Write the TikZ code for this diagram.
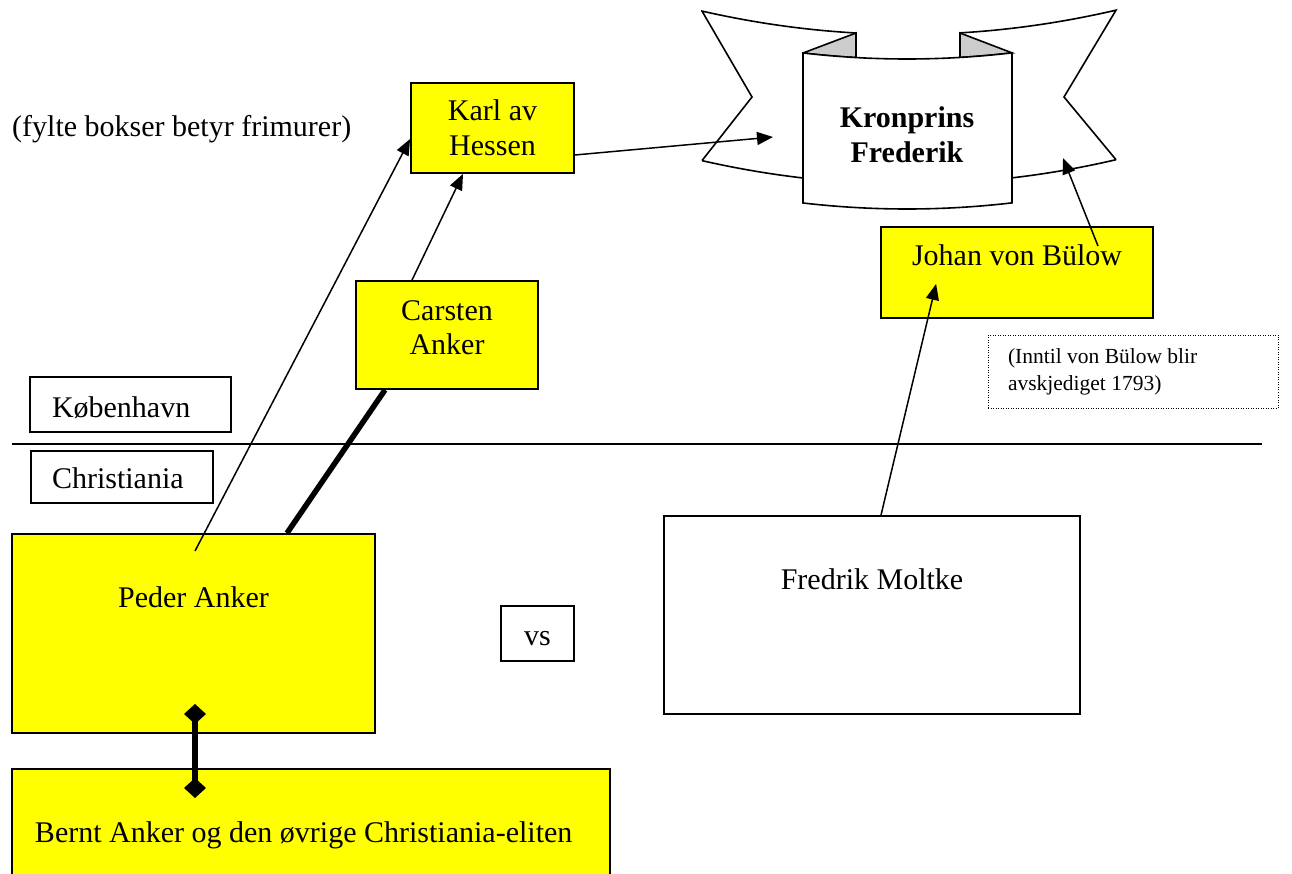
\documentclass[tikz,border=0pt]{standalone}
\usepackage{fontspec}
\setmainfont{Liberation Serif}
\usetikzlibrary{arrows.meta,calc}
\definecolor{yel}{RGB}{255,255,0}
\definecolor{foldgray}{RGB}{204,204,204}
\newcommand\fsmain{\fontsize{30}{34.5}\selectfont}
\newcommand\fssmall{\fontsize{21.5}{27}\selectfont}
\begin{document}
\begin{tikzpicture}[x=1pt,y=-1pt,
  ybox/.style={draw=black, line width=1.8pt, fill=yel, inner sep=0pt, anchor=base, font=\fsmain},
  wbox/.style={ybox, fill=white},
  dotbox/.style={draw=black, line width=1pt, dash pattern=on 1pt off 1.5pt, fill=white, inner sep=0pt, anchor=base, font=\fssmall},
  conn/.style={line width=1.5pt, -{Triangle[length=16pt,width=13pt]}},
  heavylink/.style={line width=5.5pt, line cap=butt},
  bline/.style={line width=1.6pt, line join=miter},
  plain/.style={inner sep=0pt, font=\fsmain}
]
\useasboundingbox (0,0) rectangle (1292,874);
\clip (0,0) rectangle (1292,874);

% ---------- banner ----------
\draw[bline] (702,160.6) -- (752,97) -- (702,11.1)
  -- plot[domain=702:856,samples=30] (\x,{34.45-5.56*((\x-907)/100)^2});
\draw[bline] plot[domain=702:803,samples=30] (\x,{184-5.56*((\x-907)/100)^2});
\draw[bline] plot[domain=960:1116,samples=30] (\x,{34.45-5.56*((\x-907)/100)^2})
  -- (1064,97) -- (1116,159.7);
\draw[bline] plot[domain=1012:1116,samples=30] (\x,{184-5.56*((\x-907)/100)^2});
\filldraw[bline, fill=foldgray] (856,33) -- (803,53)
  -- plot[domain=803:856,samples=20] (\x,{59-5.56*((\x-907)/100)^2}) -- cycle;
\filldraw[bline, fill=foldgray] (960,33) -- (960,57.4)
  -- plot[domain=960:1012,samples=20] (\x,{59-5.56*((\x-907)/100)^2}) -- cycle;
\filldraw[bline, fill=white] plot[domain=803:1012,samples=40] (\x,{59-5.56*((\x-907)/100)^2})
  -- plot[domain=803:1012,samples=40] ({1815-\x},{209-5.56*((1815-\x-907)/100)^2}) -- cycle;
\node[plain, anchor=base, font=\fsmain\bfseries] (kronprins) at (907,128)
  {\begin{tabular}[t]{@{}c@{}}Kronprins\\Frederik\end{tabular}};

% ---------- texts and boxes ----------
\node[plain, anchor=base west] (note) at (12,137) {(fylte bokser betyr frimurer)};

\node[ybox, minimum width=163pt, text height=38pt, text depth=52pt] (karl) at (492.5,121)
  {\begin{tabular}[t]{@{}c@{}}Karl av\\Hessen\end{tabular}};
\node[ybox, minimum width=182pt, text height=39pt, text depth=69pt] (carsten) at (447,320)
  {\begin{tabular}[t]{@{}c@{}}Carsten\\Anker\end{tabular}};
\node[ybox, minimum width=272pt, text height=39pt, text depth=52pt] (bulow) at (1017,266)
  {Johan von Bülow};
\node[dotbox, text height=28pt, text depth=45pt] (until) at (1133,363)
  {\makebox[290pt][l]{\hspace*{20pt}\begin{tabular}[t]{@{}l@{}}(Inntil von Bülow blir\\avskjediget 1793)\end{tabular}}};

\node[wbox, text height=40pt, text depth=15pt] (kbh) at (130.5,417)
  {\makebox[201pt][l]{\hspace*{22pt}København}};
\node[wbox, text height=37pt, text depth=15pt] (chr) at (122,488)
  {\makebox[182pt][l]{\hspace*{21pt}Christiania}};

\coordinate (divl) at (12,444);
\coordinate (divr) at (1262,444);
\draw[line width=1.4pt] (divl) -- (divr);

\node[ybox, minimum width=363pt, text height=73pt, text depth=126pt] (peder) at (193.5,607)
  {Peder Anker};
\node[wbox, minimum width=73pt, text height=39pt, text depth=16pt] (vs) at (537.5,645) {vs};
\node[wbox, minimum width=416pt, text height=73pt, text depth=125pt] (moltke) at (872,589)
  {Fredrik Moltke};
\node[ybox, text height=73pt, text depth=58pt] (bernt) at (311,842)
  {\makebox[598pt][l]{\hspace*{23pt}Bernt Anker og den øvrige Christiania-eliten}};

% ---------- connectors ----------
\coordinate (pk0) at (195,551);
\draw[conn] (pk0) -- ($(karl.west)+(0,11)$);
\draw[conn] ($(carsten.north)+(-35,0)$) -- ($(karl.south)+(-29.5,0)$);
\draw[heavylink] ($(peder.north)+(93.5,0)$) -- ($(carsten.south)+(-62,0)$);
\coordinate (kf) at (773,137);
\draw[conn] ($(karl.east)+(0,27)$) -- (kf);
\coordinate (bs) at (1098,246);
\coordinate (bt) at (1063,158);
\draw[conn] (bs) -- (bt);
\draw[conn] ($(moltke.north)+(9,0)$) -- ($(bulow.south west)+(56,-35)$);
\coordinate (dp) at (195,704);
\coordinate (db) at (195,798);
\draw[line width=6.5pt, {Diamond[length=20pt,width=22pt]}-{Diamond[length=20pt,width=22pt]}] (dp) -- (db);
\end{tikzpicture}
\end{document}
